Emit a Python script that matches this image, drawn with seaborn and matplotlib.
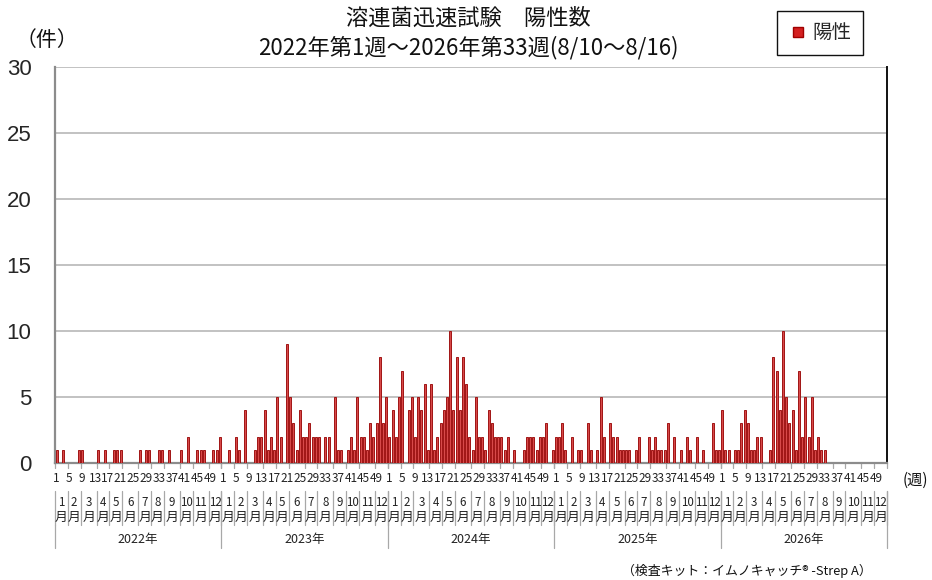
import numpy as np
import pandas as pd
import matplotlib
matplotlib.use("Agg")
import matplotlib.pyplot as plt
import matplotlib.transforms as mtransforms
from matplotlib.lines import Line2D
import seaborn as sns

# weekly positive counts, one list per year (week 1..52)
cases_2022 = [1, 0, 1, 0, 0, 0, 0, 1, 1, 0, 0, 0, 0, 1, 0, 1, 0, 0, 1, 1,
              1, 0, 0, 0, 0, 0, 1, 0, 1, 1, 0, 0, 1, 1, 0, 1, 0, 0, 0, 1,
              0, 2, 0, 0, 1, 1, 1, 0, 0, 1, 1, 2]
cases_2023 = [0, 0, 1, 0, 2, 1, 0, 4, 0, 0, 1, 2, 2, 4, 1, 2, 1, 5, 2, 0,
              9, 5, 3, 1, 4, 2, 2, 3, 2, 2, 2, 0, 2, 2, 0, 5, 1, 1, 0, 1,
              2, 1, 5, 2, 2, 1, 3, 2, 3, 8, 3, 5]
cases_2024 = [2, 4, 2, 5, 7, 0, 4, 5, 2, 5, 4, 6, 1, 6, 1, 2, 3, 4, 5, 10,
              4, 8, 4, 8, 6, 2, 1, 5, 2, 2, 1, 4, 3, 2, 2, 2, 1, 2, 0, 1,
              0, 0, 1, 2, 2, 2, 1, 2, 2, 3, 0, 1]
cases_2025 = [2, 2, 3, 1, 0, 2, 0, 1, 1, 0, 3, 1, 0, 1, 5, 2, 0, 3, 2, 2,
              1, 1, 1, 1, 0, 1, 2, 0, 0, 2, 1, 2, 1, 1, 1, 3, 0, 2, 0, 1,
              0, 2, 1, 0, 2, 0, 1, 0, 0, 3, 1, 1]
cases_2026 = [4, 1, 1, 0, 1, 1, 3, 4, 3, 1, 1, 2, 2, 0, 0, 1, 8, 7, 4, 10,
              5, 3, 4, 1, 7, 2, 5, 2, 5, 1, 2, 1, 1]

years = ["2022年", "2023年", "2024年", "2025年", "2026年"]
# weeks that fall in each month, per year
month_weeks = [
    [4, 4, 5, 4, 4, 5, 4, 4, 5, 4, 5, 4],
    [4, 4, 5, 4, 4, 5, 4, 5, 4, 4, 5, 4],
    [4, 4, 5, 4, 4, 5, 4, 5, 4, 5, 4, 4],
    [4, 4, 5, 4, 5, 4, 4, 5, 4, 5, 4, 4],
    [4, 4, 5, 4, 5, 4, 4, 5, 4, 5, 4, 4],
]
week_labels = [1, 5, 9, 13, 17, 21, 25, 29, 33, 37, 41, 45, 49]
month_labels = [str(m) for m in range(1, 13)]

all_years = [cases_2022, cases_2023, cases_2024, cases_2025, cases_2026]
vals = []
for yc in all_years:
    vals += yc + [np.nan] * (52 - len(yc))
df = pd.DataFrame({"idx": np.arange(len(vals)), "count": vals})

W, H = 932, 580
sns.set_theme(style="white")
plt.rcParams["font.family"] = ["Noto Sans CJK JP", "DejaVu Sans"]

fig = plt.figure(figsize=(W / 100, H / 100), dpi=100)
ax = fig.add_axes([55 / W, 1 - 463 / H, 832 / W, 396 / H])

sns.barplot(data=df, x="idx", y="count", native_scale=True, width=0.62,
            color="#d84a4a", saturation=1, errorbar=None,
            edgecolor="#a01414", linewidth=0.7, ax=ax, zorder=3)

ax.set_xlim(-0.5, 259.5)
ax.set_ylim(0, 30)
ax.set_yticks(range(0, 31, 5))
ax.set_yticklabels([str(v) for v in range(0, 31, 5)], fontsize=16,
                   family=["Liberation Sans", "DejaVu Sans"])
ax.tick_params(axis="y", length=0, pad=17)
ax.set_xticks([])
ax.set_xlabel("")
ax.set_ylabel("")
ax.yaxis.grid(True, color="#bdbdbd", linewidth=1.3, zorder=0)
ax.set_axisbelow(True)
for s in ["left", "bottom"]:
    ax.spines[s].set_color("#8c8c8c")
    ax.spines[s].set_linewidth(1.6)
ax.spines["top"].set_visible(False)
ax.spines["right"].set_color("#111111")
ax.spines["right"].set_linewidth(1.4)

# multi-level x axis below the plot
trans = mtransforms.blended_transform_factory(ax.transData, fig.transFigure)


def fy(py):
    return 1 - py / H


line_kw = dict(transform=trans, clip_on=False, color="#a8a8a8", linewidth=0.9)
for yi, mw in enumerate(month_weeks):
    start = yi * 52 - 0.5
    bounds = start + np.concatenate([[0], np.cumsum(mw)])
    for b in bounds:
        ax.plot([b, b], [fy(463), fy(468)], **line_kw)
        ax.plot([b, b], [fy(491), fy(525)], **line_kw)
    ax.plot([start, start], [fy(525), fy(548)], **line_kw)
    for mi in range(12):
        cx = (bounds[mi] + bounds[mi + 1]) / 2
        ax.text(cx, fy(502), month_labels[mi], transform=trans, ha="center",
                va="center", fontsize=8.3, color="#222222")
        ax.text(cx, fy(517), "月", transform=trans, ha="center",
                va="center", fontsize=9.3, color="#222222")
    for w in week_labels:
        ax.text(yi * 52 + w - 1, fy(478), str(w), transform=trans,
                ha="center", va="center", fontsize=8.5, color="#222222")
    ax.text(yi * 52 + 25.5, fy(540), years[yi], transform=trans,
            ha="center", va="center", fontsize=9, color="#222222")
ax.plot([259.5, 259.5], [fy(491), fy(548)], **line_kw)

fig.text(468 / W, fy(18), "溶連菌迅速試験　陽性数", ha="center", va="center",
         fontsize=16, color="#111111")
fig.text(468 / W, fy(48), "2022年第1週～2026年第33週(8/10～8/16)",
         ha="center", va="center", fontsize=16, color="#111111")
fig.text(47 / W, fy(40), "（件）", ha="center", va="center", fontsize=15,
         color="#111111")
fig.text(915 / W, fy(480), "(週)", ha="center", va="center", fontsize=11,
         color="#111111")
fig.text(872 / W, fy(571), "（検査キット：イムノキャッチ® -Strep A）", ha="right",
         va="center", fontsize=9.3, color="#111111")

handle = Line2D([], [], marker="s", linestyle="none", markersize=7,
                markerfacecolor="#d42020", markeredgecolor="#a00000",
                label="陽性")
leg = fig.legend(handles=[handle], loc="center",
                 bbox_to_anchor=(820 / W, fy(33)), fontsize=14,
                 frameon=True, fancybox=False, framealpha=1,
                 edgecolor="#111111", handletextpad=0.3, borderpad=0.6,
                 handlelength=0.9, borderaxespad=0)
leg.get_frame().set_linewidth(1.0)

fig.savefig("out.png", dpi=100)
